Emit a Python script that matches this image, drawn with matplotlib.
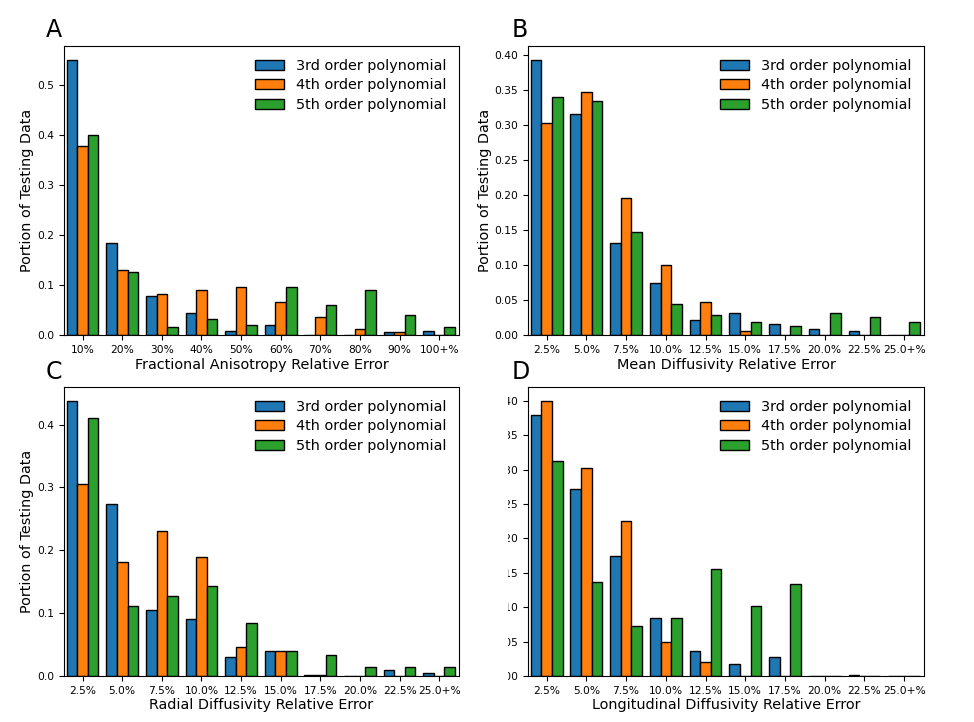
import numpy as np
import matplotlib
matplotlib.use("Agg")
import matplotlib.pyplot as plt
from matplotlib.patches import Rectangle

series = ["3rd order polynomial", "4th order polynomial", "5th order polynomial"]
colors = ["#1f77b4", "#ff7f0e", "#2ca02c"]

fa_labels = ["10%", "20%", "30%", "40%", "50%", "60%", "70%", "80%", "90%", "100+%"]
fa_3rd = [0.551, 0.184, 0.078, 0.044, 0.009, 0.020, 0.0, 0.0, 0.007, 0.009]
fa_4th = [0.379, 0.131, 0.082, 0.091, 0.097, 0.066, 0.037, 0.012, 0.007, 0.0]
fa_5th = [0.400, 0.126, 0.016, 0.032, 0.021, 0.097, 0.061, 0.091, 0.040, 0.016]

diff_labels = ["2.5%", "5.0%", "7.5%", "10.0%", "12.5%", "15.0%", "17.5%",
               "20.0%", "22.5%", "25.0+%"]

md_3rd = [0.393, 0.315, 0.132, 0.074, 0.021, 0.031, 0.015, 0.009, 0.006, 0.0]
md_4th = [0.302, 0.347, 0.196, 0.100, 0.047, 0.006, 0.0, 0.0, 0.0, 0.0]
md_5th = [0.340, 0.334, 0.147, 0.044, 0.028, 0.019, 0.013, 0.031, 0.026, 0.019]

rd_3rd = [0.438, 0.274, 0.105, 0.090, 0.031, 0.040, 0.002, 0.0, 0.0095, 0.005]
rd_4th = [0.305, 0.181, 0.231, 0.190, 0.046, 0.040, 0.002, 0.0, 0.0, 0.0]
rd_5th = [0.410, 0.112, 0.128, 0.143, 0.084, 0.040, 0.033, 0.015, 0.015, 0.015]

ld_3rd = [0.380, 0.272, 0.175, 0.084, 0.037, 0.018, 0.028, 0.0, 0.002, 0.0]
ld_4th = [0.400, 0.302, 0.225, 0.050, 0.021, 0.0, 0.0, 0.0, 0.0, 0.0]
ld_5th = [0.312, 0.137, 0.072, 0.084, 0.155, 0.102, 0.133, 0.0, 0.0, 0.0]

panels = [
    ("A", fa_labels, [fa_3rd, fa_4th, fa_5th], "Fractional Anisotropy Relative Error"),
    ("B", diff_labels, [md_3rd, md_4th, md_5th], "Mean Diffusivity Relative Error"),
    ("C", diff_labels, [rd_3rd, rd_4th, rd_5th], "Radial Diffusivity Relative Error"),
    ("D", diff_labels, [ld_3rd, ld_4th, ld_5th], "Longitudinal Diffusivity Relative Error"),
]

W, H = 974, 722
fig = plt.figure(figsize=(W / 100, H / 100), dpi=100)

# axes boxes in pixels: left, top, right, bottom
boxes = [(64, 46, 459, 335), (528, 46, 924, 335),
         (64, 387, 459, 676), (528, 387, 924, 676)]
letter_pos = [(46, 37), (512, 37), (46, 379), (512, 379)]

width = 0.8 / 3
for (letter, labels, vals, xlabel), (l, t, r, b), (lx, ly) in zip(panels, boxes, letter_pos):
    ax = fig.add_axes([l / W, 1 - b / H, (r - l) / W, (b - t) / H])
    x = np.arange(len(labels))
    for i, (name, v) in enumerate(zip(series, vals)):
        ax.bar(x + (i - 1) * width, v, width, color=colors[i], edgecolor="black",
               linewidth=1, label=name)
    ax.set_xticks(x)
    ax.set_xticklabels(labels, fontsize=7.7)
    ax.tick_params(axis="y", labelsize=7.7)
    ax.set_xlim(-0.47, 9.5)
    ax.set_xlabel(xlabel, fontsize=10.4, labelpad=2)
    ax.set_ylabel("Portion of Testing Data", fontsize=10.4, labelpad=2)
    ax.legend(fontsize=10.4, frameon=False, loc="upper right", labelspacing=0.38)
    fig.text(lx / W, 1 - ly / H, letter, fontsize=17, ha="left", va="baseline")

# left part of panel D was cropped in the original figure
fig.patches.append(Rectangle((470 / W, 0), (508 - 470) / W, 1 - 383 / H,
                             transform=fig.transFigure, facecolor="white",
                             edgecolor="none", zorder=2.5))

plt.savefig("out.png", format="png")
